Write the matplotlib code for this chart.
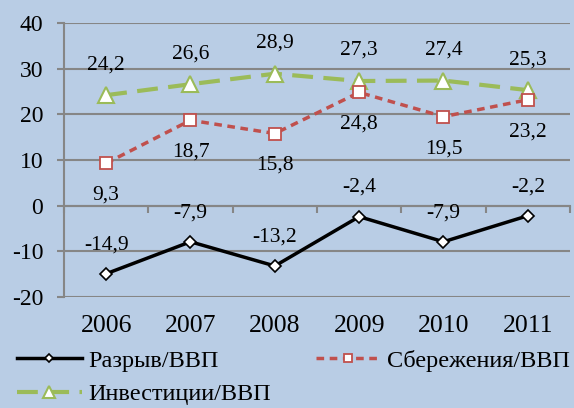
import numpy as np
import matplotlib
matplotlib.use('Agg')
import matplotlib.pyplot as plt

# ── data ──────────────────────────────────────────
years = ['2006', '2007', '2008', '2009', '2010', '2011']
gap = [-14.9, -7.9, -13.2, -2.4, -7.9, -2.2]
savings = [9.3, 18.7, 15.8, 24.8, 19.5, 23.2]
invest = [24.2, 26.6, 28.9, 27.3, 27.4, 25.3]
names = ['Разрыв/ВВП', 'Сбережения/ВВП', 'Инвестиции/ВВП']
yticks = [-20, -10, 0, 10, 20, 30, 40]

plt.rcParams['font.family'] = ['Liberation Serif', 'DejaVu Serif']
fs_lab = 15.5
fs_tick = 17
fs_year = 18.5
fs_leg = 17.5
bg = '#b9cde5'
grid_c = '#868686'

fig = plt.figure(figsize=(5.74, 4.08), dpi=100, facecolor=bg)
ax = fig.add_axes([0.1115, 0.272, 0.8815, 0.6716], facecolor=bg)
x = np.arange(len(years))

l1, = ax.plot(x, gap, color='black', lw=2.5, marker='D', ms=6,
              mfc='white', mec='black', mew=1.2, zorder=4)
l2, = ax.plot(x, savings, color='#c0504d', lw=2.5, ls=(0, (2.2, 1.6)), marker='s', ms=8,
              mfc='white', mec='#c0504d', mew=1.3, zorder=4)
l3, = ax.plot(x, invest, color='#9bbb59', lw=3, ls=(0, (5, 2.5)), marker='^', ms=12,
              mfc='white', mec='#9bbb59', mew=1.5, zorder=3)

def lab(v):
    return f'{v:.1f}'.replace('.', ',')

# data labels: gap and investment above, savings below
for xi, v in zip(x, gap):
    ax.annotate(lab(v), (xi, v), xytext=(0, 21), textcoords='offset points',
                ha='center', va='center', fontsize=fs_lab)
for xi, v in zip(x, savings):
    ax.annotate(lab(v), (xi, v), xytext=(0, -23), textcoords='offset points',
                ha='center', va='center', fontsize=fs_lab)
for xi, v in zip(x, invest):
    ax.annotate(lab(v), (xi, v), xytext=(0, 22), textcoords='offset points',
                ha='center', va='center', fontsize=fs_lab)

ax.set_ylim(-20, 40)
ax.set_xlim(-0.5, len(years) - 0.5)
ax.set_yticks(yticks)
ax.set_yticklabels([str(t) for t in yticks], fontsize=fs_tick)
ax.yaxis.grid(True, color=grid_c, lw=1.5)
ax.set_axisbelow(True)
ax.tick_params(axis='y', length=5, width=1.5, color=grid_c, pad=10)

ax.set_xticks(x)
ax.set_xticklabels(years, fontsize=fs_year)
ax.tick_params(axis='x', length=0, pad=13)

for s in ['top', 'right', 'bottom']:
    ax.spines[s].set_visible(False)
ax.spines['left'].set_color(grid_c)
ax.spines['left'].set_linewidth(1.5)

# category axis crossing at zero
sec = ax.secondary_xaxis((0 - (-20)) / 60)
sec.set_xticks(np.arange(len(years) + 1) - 0.5)
sec.set_xticklabels([])
sec.tick_params(length=5, width=1.5, color=grid_c, direction='out')
sec.spines['bottom'].set_color(grid_c)
sec.spines['bottom'].set_linewidth(1.5)

leg = fig.legend([l1, l3, l2], [names[0], names[2], names[1]], ncol=2,
                 loc='upper left', bbox_to_anchor=(0.03, 0.143), frameon=False,
                 fontsize=fs_leg, handlelength=2.65, handletextpad=0.28,
                 columnspacing=1.86, labelspacing=0.48, borderaxespad=0, borderpad=0,
                 markerscale=0.75)

fig.savefig('out.png', dpi=100, facecolor=bg)
